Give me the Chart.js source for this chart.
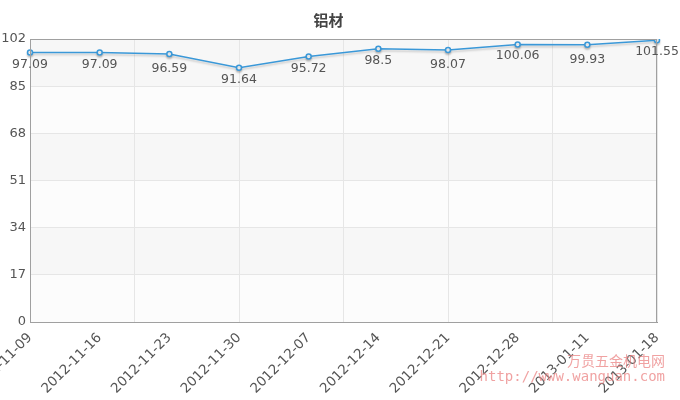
<!DOCTYPE html>
<html>
<head>
<meta charset="utf-8">
<title>铝材</title>
<script src="https://cdn.jsdelivr.net/npm/chart.js"></script>
<style>
  html, body { margin: 0; padding: 0; background: #fff; }
</style>
</head>
<body>
<canvas id="chart" width="680" height="400"></canvas>
<script>
// data
const dates = ['2012-11-09', '2012-11-16', '2012-11-23', '2012-11-30', '2012-12-07',
               '2012-12-14', '2012-12-21', '2012-12-28', '2013-01-11', '2013-01-18'];
const prices = [97.09, 97.09, 96.59, 91.64, 95.72, 98.5, 98.07, 100.06, 99.93, 101.55];
const yMax = 102;
const yStep = 17;

// value labels sit under each point, a few are pushed a bit lower
const labelDy = [12, 12, 15, 12, 12, 12, 15, 11, 15, 12];

const fontFamily = '"DejaVu Sans", Verdana, sans-serif';

// alternating horizontal bands behind the plot
const bandsPlugin = {
    id: 'bands',
    beforeDraw(chart) {
        const { ctx, chartArea: a, scales: { y } } = chart;
        ctx.save();
        let i = 0;
        for (let v = yMax; v > 0; v -= yStep) {
            const top = y.getPixelForValue(v);
            const bottom = y.getPixelForValue(v - yStep);
            ctx.fillStyle = i % 2 === 0 ? '#f7f7f7' : '#fcfcfc';
            ctx.fillRect(a.left, top, a.right - a.left, bottom - top);
            i++;
        }
        ctx.restore();
    }
};

// light shadow under the line
const shadowPlugin = {
    id: 'lineShadow',
    beforeDatasetDraw(chart) {
        const ctx = chart.ctx;
        ctx.save();
        ctx.shadowColor = 'rgba(0,0,0,0.18)';
        ctx.shadowBlur = 2;
        ctx.shadowOffsetY = 2;
    },
    afterDatasetDraw(chart) {
        chart.ctx.restore();
    }
};

const frameAndLabels = {
    id: 'frameAndLabels',
    afterDatasetsDraw(chart) {
        const { ctx, chartArea: a } = chart;
        ctx.save();
        ctx.strokeStyle = '#a0a0a0';
        ctx.lineWidth = 1;
        ctx.strokeRect(Math.round(a.left) + 0.5, Math.round(a.top) + 0.5,
                       Math.round(a.right - a.left) - 1, Math.round(a.bottom - a.top));
        // value labels
        const meta = chart.getDatasetMeta(0);
        ctx.font = '12.5px ' + fontFamily;
        ctx.fillStyle = '#555';
        ctx.textAlign = 'center';
        ctx.textBaseline = 'middle';
        meta.data.forEach((pt, i) => {
            ctx.fillText(String(prices[i]), pt.x, pt.y + labelDy[i]);
        });
        ctx.restore();
    },
    afterDraw(chart) {
        // site watermark
        const ctx = chart.ctx;
        ctx.save();
        ctx.textAlign = 'right';
        ctx.textBaseline = 'middle';
        ctx.shadowColor = 'rgba(255,255,255,0.9)';
        ctx.shadowBlur = 2;
        ctx.fillStyle = 'rgba(230,100,100,0.6)';
        ctx.font = '14px "Noto Sans CJK SC", sans-serif';
        ctx.fillText('万贯五金机电网', 665, 361);
        ctx.font = '14px "DejaVu Sans Mono", monospace';
        ctx.fillText('http://www.wanguan.com', 665, 377);
        ctx.restore();
    }
};

new Chart(document.getElementById('chart'), {
    type: 'line',
    data: {
        labels: dates,
        datasets: [{
            label: '铝材',
            data: prices,
            borderColor: '#3a98d8',
            borderWidth: 1.5,
            backgroundColor: '#fff',
            pointBackgroundColor: '#fff',
            pointBorderColor: '#3a98d8',
            pointBorderWidth: 1.5,
            pointRadius: 2.5,
            tension: 0,
            fill: false
        }]
    },
    options: {
        responsive: false,
        animation: false,
        layout: { padding: { left: 0, right: 23, top: 0, bottom: 0 } },
        plugins: {
            legend: { display: false },
            tooltip: { enabled: false },
            title: {
                display: true,
                text: '铝材',
                color: '#444',
                font: { family: '"Noto Sans CJK SC", sans-serif', size: 15, weight: 'bold' },
                padding: { top: 11, bottom: 10 }
            }
        },
        scales: {
            x: {
                type: 'category',
                offset: false,
                grid: { display: false, drawTicks: false },
                border: { color: '#999' },
                ticks: {
                    autoSkip: false,
                    maxRotation: 45,
                    minRotation: 45,
                    padding: 8,
                    color: '#555',
                    font: { family: fontFamily, size: 13.5 }
                },
                afterFit(s) {
                    s.height = 78;
                    s.paddingLeft = 0;
                    s.paddingRight = 0;
                }
            },
            // only provides the six vertical grid divisions
            x2: {
                type: 'linear',
                position: 'bottom',
                min: 0,
                max: 6,
                ticks: { display: false, stepSize: 1 },
                grid: { color: '#e6e6e6', drawTicks: false },
                border: { display: false },
                afterFit(s) {
                    s.height = 0;
                    s.paddingLeft = 0;
                    s.paddingRight = 0;
                }
            },
            y: {
                min: 0,
                max: yMax,
                ticks: {
                    stepSize: yStep,
                    padding: 4,
                    color: '#555',
                    font: { family: fontFamily, size: 13 }
                },
                grid: { color: '#e6e6e6', drawTicks: false },
                border: { color: '#999' },
                afterFit(s) {
                    s.width = 30;
                }
            }
        }
    },
    plugins: [bandsPlugin, shadowPlugin, frameAndLabels]
});
</script>
</body>
</html>
